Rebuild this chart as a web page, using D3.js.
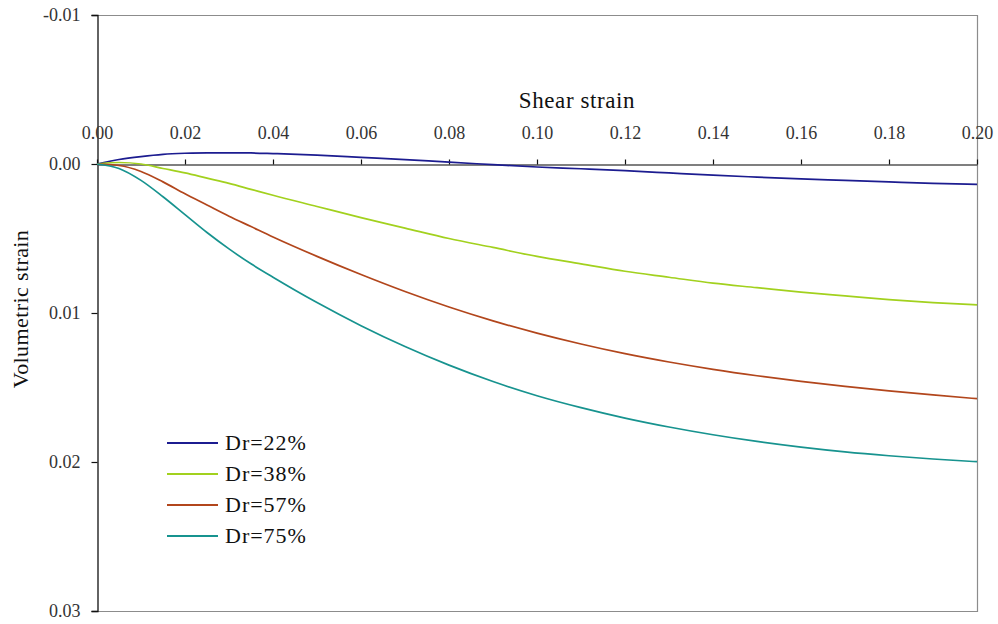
<!DOCTYPE html>
<html>
<head>
<meta charset="utf-8">
<script src="https://cdn.jsdelivr.net/npm/d3@7"></script>
<style>
  html, body { margin: 0; padding: 0; background: #fff; }
  svg { display: block; font-family: "Liberation Serif", "Times New Roman", serif; }
</style>
</head>
<body>
<svg id="chart" width="998" height="624"></svg>
<script>
// Shear strain sample points
const shearStrain = [0, 0.005, 0.01, 0.015, 0.02, 0.025, 0.03, 0.035, 0.04, 0.05, 0.06, 0.07, 0.08,
                     0.09, 0.10, 0.11, 0.12, 0.13, 0.14, 0.15, 0.16, 0.17, 0.18, 0.19, 0.20];

// Volumetric strain for each relative density (positive = contraction)
const dr22 = [0, -0.0003, -0.0005, -0.00065, -0.00072, -0.00075, -0.00075, -0.00074, -0.0007,
              -0.0006, -0.00045, -0.0003, -0.00012, 0.00004, 0.0002, 0.00032, 0.00045, 0.0006,
              0.00075, 0.00088, 0.001, 0.0011, 0.0012, 0.0013, 0.00137];
const dr38 = [0, -0.0001, 0, 0.0003, 0.0006, 0.00095, 0.0013, 0.0017, 0.0021, 0.00285, 0.0036,
              0.0043, 0.0050, 0.0056, 0.0062, 0.0067, 0.0072, 0.0076, 0.0080, 0.0083, 0.0086,
              0.00885, 0.0091, 0.0093, 0.00945];
const dr57 = [0, 0.0001, 0.0005, 0.0012, 0.0020, 0.00275, 0.0035, 0.0042, 0.0049, 0.0062, 0.00742,
              0.00856, 0.0096, 0.01053, 0.01135, 0.01208, 0.01273, 0.01329, 0.01378, 0.01421,
              0.01459, 0.01493, 0.01523, 0.0155, 0.01575];
const dr75 = [0, 0.0003, 0.0011, 0.0022, 0.0034, 0.0046, 0.0057, 0.0067, 0.0076, 0.0093, 0.01085,
              0.01225, 0.0135, 0.0146, 0.01555, 0.01635, 0.01705, 0.01765, 0.01817, 0.01862,
              0.019, 0.01932, 0.01958, 0.0198, 0.01998];

const seriesNames = ["Dr=22%", "Dr=38%", "Dr=57%", "Dr=75%"];
const seriesValues = [dr22, dr38, dr57, dr75];
const seriesColors = ["#1c1c90", "#a2d11e", "#b2461c", "#17938f"];

const xTicks = [0, 0.02, 0.04, 0.06, 0.08, 0.10, 0.12, 0.14, 0.16, 0.18, 0.20];
const yTicks = [-0.01, 0, 0.01, 0.02, 0.03];
const yTickLabels = ["-0.01", "0.00", "0.01", "0.02", "0.03"];

const svg = d3.select("#chart");
const plotL = 97, plotR = 977, plotT = 15, plotB = 611;

const x = d3.scaleLinear().domain([0, 0.20]).range([plotL, plotR]);
const y = d3.scaleLinear().domain([-0.01, 0.03]).range([plotT, plotB]);

// Plot frame (top, right, bottom in gray)
svg.append("path")
  .attr("d", `M${plotL},${plotT + 0.5}H${plotR + 0.5}V${plotB + 0.5}H${plotL}`)
  .attr("fill", "none").attr("stroke", "#8c8c8c").attr("stroke-width", 1.2);

// Vertical axis on the left
const yAxis = d3.axisLeft(y).tickValues(yTicks)
  .tickFormat((d, i) => yTickLabels[i]).tickSize(6).tickPadding(11);
const gy = svg.append("g").attr("transform", `translate(${plotL + 0.5},0)`).call(yAxis);
gy.select(".domain").attr("stroke", "#111").attr("stroke-width", 1.3);
gy.selectAll(".tick line").attr("stroke", "#111").attr("stroke-width", 1.2);
gy.selectAll(".tick text").attr("font-size", 18).attr("fill", "#333")
  .attr("font-family", "Liberation Serif, serif");

// Horizontal axis through zero, labels above
const xAxis = d3.axisTop(x).tickValues(xTicks).tickFormat(d3.format(".2f"))
  .tickSizeInner(5).tickSizeOuter(0).tickPadding(16);
const gx = svg.append("g").attr("transform", `translate(0,${y(0) + 0.5})`).call(xAxis);
gx.select(".domain").attr("stroke", "#555").attr("stroke-width", 1.3);
gx.selectAll(".tick line").attr("stroke", "#111").attr("stroke-width", 1.2);
gx.selectAll(".tick text").attr("font-size", 18).attr("fill", "#333")
  .attr("font-family", "Liberation Serif, serif").attr("y", -26);

// Axis titles
svg.append("text").attr("x", 577).attr("y", 108).attr("text-anchor", "middle")
  .attr("font-size", 23).attr("fill", "#111").attr("letter-spacing", 0.6).text("Shear strain");
svg.append("text").attr("transform", "translate(28,309) rotate(-90)")
  .attr("text-anchor", "middle").attr("font-size", 22).attr("fill", "#111")
  .attr("letter-spacing", 0.4).text("Volumetric strain");

// Curves
const line = d3.line().x(d => x(d[0])).y(d => y(d[1])).curve(d3.curveMonotoneX);
seriesValues.forEach((vals, i) => {
  svg.append("path")
    .datum(shearStrain.map((s, k) => [s, vals[k]]))
    .attr("d", line)
    .attr("fill", "none")
    .attr("stroke", seriesColors[i])
    .attr("stroke-width", 1.7);
});

// Legend
const legend = svg.append("g").attr("transform", "translate(167,443)");
seriesNames.forEach((name, i) => {
  const g = legend.append("g").attr("transform", `translate(0,${i * 31})`);
  g.append("line").attr("x1", 0).attr("x2", 51).attr("y1", 0).attr("y2", 0)
    .attr("stroke", seriesColors[i]).attr("stroke-width", 1.8);
  g.append("text").attr("x", 58).attr("y", 7).attr("font-size", 22)
    .attr("fill", "#111").attr("letter-spacing", 1).text(name);
});
</script>
</body>
</html>
